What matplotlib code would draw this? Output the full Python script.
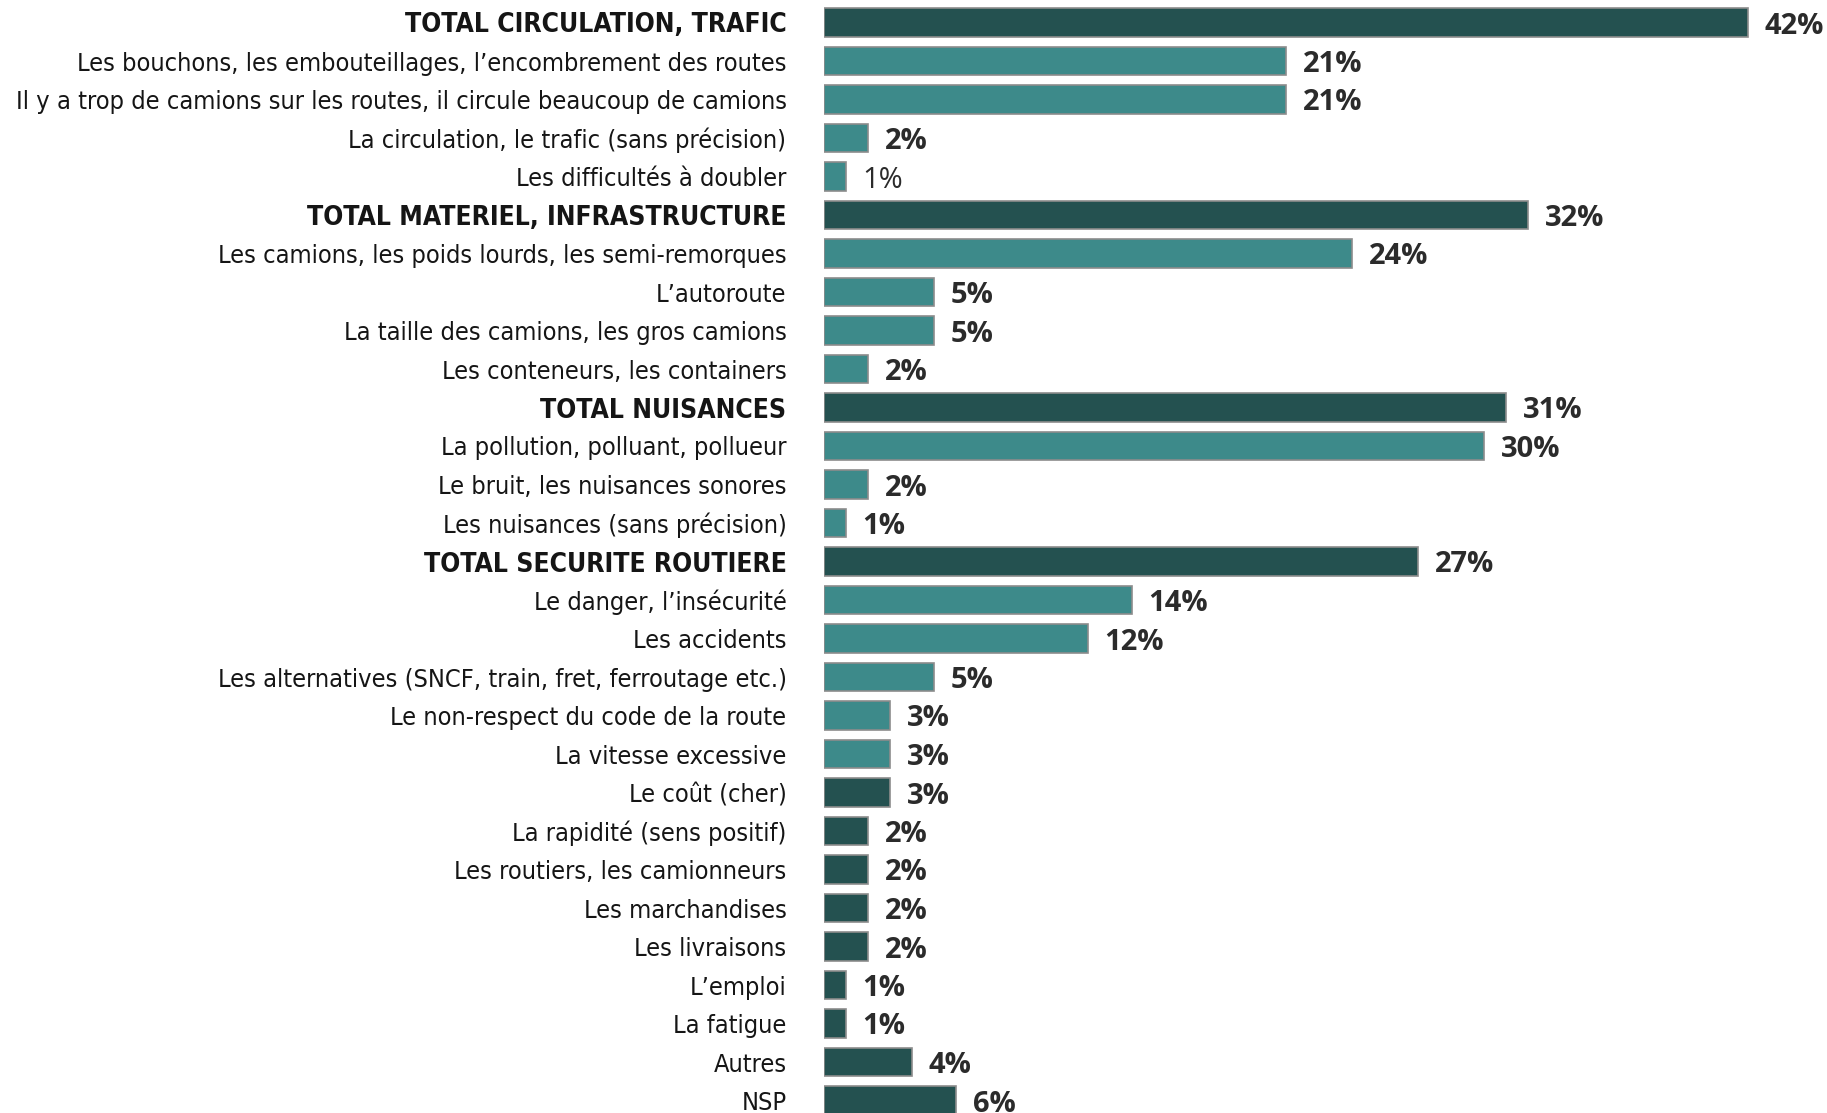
import matplotlib.pyplot as plt

labels = [
    "TOTAL CIRCULATION, TRAFIC",
    "Les bouchons, les embouteillages, l\u2019encombrement des routes",
    "Il y a trop de camions sur les routes, il circule beaucoup de camions",
    "La circulation, le trafic (sans précision)",
    "Les difficultés à doubler",
    "TOTAL MATERIEL, INFRASTRUCTURE",
    "Les camions, les poids lourds, les semi-remorques",
    "L\u2019autoroute",
    "La taille des camions, les gros camions",
    "Les conteneurs, les containers",
    "TOTAL NUISANCES",
    "La pollution, polluant, pollueur",
    "Le bruit, les nuisances sonores",
    "Les nuisances (sans précision)",
    "TOTAL SECURITE ROUTIERE",
    "Le danger, l\u2019insécurité",
    "Les accidents",
    "Les alternatives (SNCF, train, fret, ferroutage etc.)",
    "Le non-respect du code de la route",
    "La vitesse excessive",
    "Le coût (cher)",
    "La rapidité (sens positif)",
    "Les routiers, les camionneurs",
    "Les marchandises",
    "Les livraisons",
    "L\u2019emploi",
    "La fatigue",
    "Autres",
    "NSP",
]
values = [42, 21, 21, 2, 1, 32, 24, 5, 5, 2, 31, 30, 2, 1, 27, 14, 12, 5, 3, 3,
          3, 2, 2, 2, 2, 1, 1, 4, 6]
# d = dark (totals and the items after the sub-lists), l = light
shades = list("d" + "llll" + "d" + "llll" + "d" + "lll" + "d" + "lllll" + "ddddddddd")
bold_label = [l.startswith("TOTAL") for l in labels]
bold_value = [True] * len(values)
bold_value[4] = False

DARK = "#245150"
LIGHT = "#3d8a8a"

fig = plt.figure(figsize=(18.27, 11.13), dpi=100)
ax = fig.add_axes([824 / 1827, 0, 1003 / 1827, 1])

y = list(range(len(labels)))
colors = [DARK if s == "d" else LIGHT for s in shades]
ax.barh(y, values, height=0.75, color=colors, edgecolor="#8c8c8c", linewidth=1.2)

ax.set_xlim(0, 1003 / 22)
ax.set_ylim((1113 - 22.5) / 38.5, -22.5 / 38.5)

ax.set_yticks(y)
ax.set_yticklabels(labels)
for lab, b in zip(ax.get_yticklabels(), bold_label):
    lab.set_fontfamily("DejaVu Sans")
    lab.set_fontstretch("condensed")
    lab.set_color("#151515")
    if b:
        lab.set_fontweight("bold")
        lab.set_fontsize(19)
    else:
        lab.set_fontsize(18.2)
ax.tick_params(axis="y", length=0, pad=27)
ax.set_xticks([])
for s in ax.spines.values():
    s.set_visible(False)

for yi, v, b in zip(y, values, bold_value):
    ax.annotate(f"{v}%", (v, yi), xytext=(12, 0), textcoords="offset points",
                va="center_baseline", ha="left", fontsize=21, color="#2b2b2b",
                fontfamily="Open Sans", fontweight="bold" if b else "normal")

fig.savefig("out.png", dpi=100)
